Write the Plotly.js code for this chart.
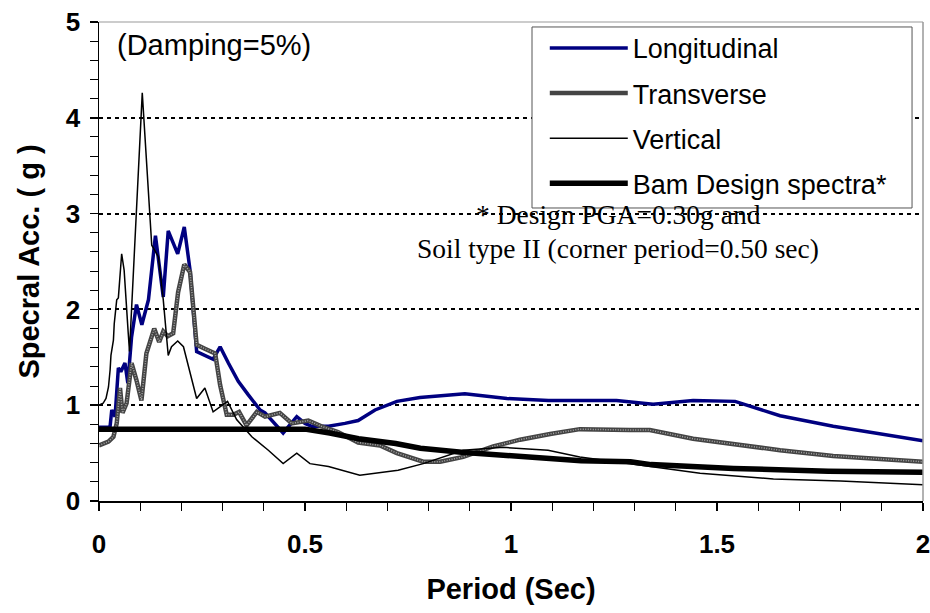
<!DOCTYPE html>
<html>
<head>
<meta charset="utf-8">
<script src="https://cdn.plot.ly/plotly-3.0.1.min.js"></script>
<style>html,body{margin:0;padding:0;background:#fff;}#chart{width:930px;height:613px;}</style>
</head>
<body>
<div id="chart"></div>
<script>
// Period (sec) and spectral acceleration (g)
const longPeriod = [0, 0.023, 0.027, 0.031, 0.039, 0.047, 0.053, 0.063, 0.070, 0.079, 0.091, 0.104, 0.120, 0.137, 0.156, 0.168, 0.191, 0.207, 0.221, 0.237, 0.277, 0.294, 0.314, 0.338, 0.362, 0.391, 0.403, 0.427, 0.447, 0.480, 0.500, 0.516, 0.557, 0.597, 0.629, 0.670, 0.723, 0.779, 0.888, 0.990, 1.091, 1.216, 1.256, 1.345, 1.442, 1.544, 1.653, 1.782, 2.0];
const longAcc    = [0.77, 0.77, 0.78, 0.95, 0.88, 1.39, 1.35, 1.44, 1.23, 1.71, 2.05, 1.84, 2.10, 2.77, 2.13, 2.82, 2.58, 2.86, 2.41, 1.56, 1.48, 1.61, 1.44, 1.25, 1.11, 0.95, 0.92, 0.81, 0.71, 0.88, 0.81, 0.78, 0.78, 0.81, 0.84, 0.95, 1.04, 1.08, 1.12, 1.07, 1.05, 1.05, 1.05, 1.01, 1.05, 1.04, 0.89, 0.78, 0.63];

const transPeriod = [0, 0.023, 0.035, 0.043, 0.051, 0.057, 0.067, 0.079, 0.091, 0.103, 0.115, 0.134, 0.146, 0.156, 0.167, 0.180, 0.192, 0.207, 0.221, 0.237, 0.257, 0.282, 0.294, 0.310, 0.326, 0.340, 0.358, 0.383, 0.403, 0.439, 0.468, 0.508, 0.540, 0.580, 0.629, 0.682, 0.723, 0.787, 0.828, 0.884, 0.957, 1.022, 1.095, 1.167, 1.289, 1.337, 1.442, 1.653, 1.782, 2.0];
const transAcc    = [0.58, 0.62, 0.67, 0.81, 1.18, 0.92, 1.02, 1.44, 1.26, 1.05, 1.54, 1.80, 1.66, 1.77, 1.72, 1.75, 2.18, 2.47, 2.39, 1.63, 1.59, 1.54, 1.21, 0.90, 0.90, 0.93, 0.79, 0.93, 0.88, 0.92, 0.81, 0.84, 0.78, 0.72, 0.61, 0.58, 0.50, 0.41, 0.41, 0.46, 0.57, 0.64, 0.70, 0.75, 0.74, 0.74, 0.65, 0.53, 0.47, 0.41];

const vertPeriod = [0, 0.010, 0.017, 0.023, 0.027, 0.029, 0.035, 0.037, 0.043, 0.047, 0.055, 0.061, 0.071, 0.074, 0.105, 0.128, 0.144, 0.156, 0.168, 0.176, 0.191, 0.205, 0.237, 0.257, 0.277, 0.312, 0.334, 0.371, 0.411, 0.447, 0.480, 0.512, 0.557, 0.633, 0.726, 0.787, 0.884, 0.981, 1.090, 1.167, 1.289, 1.337, 1.459, 1.637, 1.800, 2.0];
const vertAcc    = [1.00, 1.02, 1.07, 1.19, 1.37, 1.52, 1.68, 1.85, 2.10, 2.12, 2.58, 2.41, 1.75, 1.56, 4.26, 2.67, 2.55, 2.10, 1.52, 1.61, 1.67, 1.61, 1.07, 1.18, 0.93, 1.04, 0.85, 0.67, 0.53, 0.39, 0.50, 0.39, 0.36, 0.27, 0.32, 0.39, 0.53, 0.56, 0.53, 0.46, 0.39, 0.36, 0.29, 0.23, 0.21, 0.17];

const designPeriod = [0, 0.5, 0.56, 0.63, 0.72, 0.78, 0.88, 0.99, 1.09, 1.17, 1.29, 1.34, 1.54, 1.77, 2.0];
const designAcc    = [0.75, 0.75, 0.71, 0.65, 0.60, 0.55, 0.51, 0.48, 0.45, 0.42, 0.41, 0.38, 0.34, 0.31, 0.30];

const seriesNames = ["Longitudinal", "Transverse", "Vertical", "Bam Design spectra*"];
const xTickVals = [0, 0.5, 1, 1.5, 2];
const xTickText = ["0", "0.5", "1", "1.5", "2"];
const yTickVals = [0, 1, 2, 3, 4, 5];

const traces = [
  {x: longPeriod, y: longAcc, name: seriesNames[0], mode: "lines", legendgroup: "a",
   line: {color: "#000080", width: 3.5}},
  {x: transPeriod, y: transAcc, name: seriesNames[1], mode: "lines", legendgroup: "b",
   line: {color: "#444444", width: 4.5}},
  {x: transPeriod, y: transAcc, name: seriesNames[1], mode: "lines", legendgroup: "b", showlegend: false,
   line: {color: "#a8a8a8", width: 1.5, dash: "1px,1.5px"}, hoverinfo: "skip"},
  {x: vertPeriod, y: vertAcc, name: seriesNames[2], mode: "lines", legendgroup: "c",
   line: {color: "#000000", width: 1.5}},
  {x: designPeriod, y: designAcc, name: seriesNames[3], mode: "lines", legendgroup: "d",
   line: {color: "#000000", width: 5.5}}
];

const sans = "Liberation Sans, Arial, sans-serif";
const tickFont = {family: sans, size: 26, color: "#000", weight: "bold"};
const titleFont = {family: sans, size: 29, color: "#000", weight: "bold"};

const layout = {
  width: 930, height: 613,
  margin: {l: 99, r: 7, t: 22, b: 112},
  paper_bgcolor: "#fff", plot_bgcolor: "#fff",
  showlegend: true,
  legend: {
    x: 0.541, y: 0.996, xanchor: "left", yanchor: "top",
    bgcolor: "rgba(0,0,0,0)", borderwidth: 0,
    font: {family: sans, size: 27, color: "#000"},
    traceorder: "grouped", tracegroupgap: 7, itemwidth: 78
  },
  xaxis: {
    range: [0, 2], tickvals: xTickVals, ticktext: xTickText,
    showgrid: false, zeroline: false,
    showline: true, linecolor: "#000", linewidth: 1.5,
    ticks: "outside", ticklen: 8, tickwidth: 1.5, tickcolor: "#000",
    minor: {dtick: 0.1, ticks: "outside", ticklen: 8, tickwidth: 1, tickcolor: "#000", showgrid: false},
    tickfont: tickFont, ticklabelstandoff: 11, ticklabeloverflow: "allow",
    title: {text: "Period (Sec)", font: titleFont, standoff: 21}
  },
  yaxis: {
    range: [0, 5], tickvals: yTickVals,
    showgrid: true, gridcolor: "#000", gridwidth: 2, griddash: "4px,4px",
    zeroline: false,
    showline: true, linecolor: "#000", linewidth: 1.5,
    ticks: "outside", ticklen: 8, tickwidth: 1.5, tickcolor: "#000",
    minor: {dtick: 0.2, ticks: "outside", ticklen: 8, tickwidth: 1, tickcolor: "#000", showgrid: false},
    tickfont: tickFont, ticklabelstandoff: 4, ticklabeloverflow: "allow",
    title: {text: "Specral Acc. ( g )", font: titleFont, standoff: 17}
  },
  shapes: [
    {type: "line", xref: "paper", yref: "paper", x0: 0, x1: 1, y0: 1, y1: 1, line: {color: "#999", width: 1}},
    {type: "line", xref: "paper", yref: "paper", x0: 1, x1: 1, y0: 0, y1: 1, line: {color: "#999", width: 1.5}},
    {type: "rect", xref: "paper", yref: "paper", x0: 0.5255, x1: 0.9867, y0: 0.6117, y1: 0.9896,
     layer: "above", fillcolor: "#fff", line: {color: "#555", width: 1}}
  ],
  annotations: [
    {text: "(Damping=5%)", x: 0.04, y: 4.76, xref: "x", yref: "y", xanchor: "left", yanchor: "middle",
     showarrow: false, font: {family: sans, size: 29, color: "#000"}},
    {text: "* Design PGA=0.30g and", x: 1.26, y: 2.99, xref: "x", yref: "y", xanchor: "center", yanchor: "middle",
     showarrow: false, font: {family: "Liberation Serif, Times New Roman, serif", size: 27.5, color: "#000"}},
    {text: "Soil type II (corner period=0.50 sec)", x: 1.26, y: 2.64, xref: "x", yref: "y", xanchor: "center", yanchor: "middle",
     showarrow: false, font: {family: "Liberation Serif, Times New Roman, serif", size: 27.5, color: "#000"}}
  ]
};

Plotly.newPlot("chart", traces, layout, {displayModeBar: false, staticPlot: true});
</script>
</body>
</html>
